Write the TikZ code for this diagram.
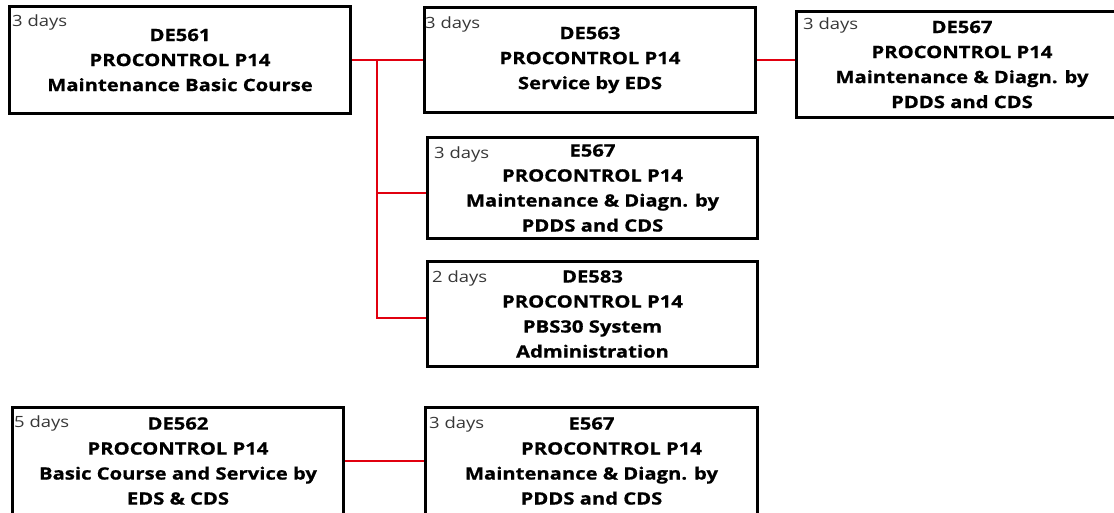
\documentclass[tikz,border=0pt]{standalone}
\usepackage{fontspec}
\setmainfont{Open Sans}[FakeStretch=1.19, BoldFeatures={FakeBold=0.8}]
\usetikzlibrary{positioning}

\definecolor{linkred}{RGB}{225,0,15}
\definecolor{daysgray}{RGB}{55,55,55}

\begin{document}
\begin{tikzpicture}[x=1pt,y=-1pt,
    course/.style={draw, line width=3pt, align=center, inner sep=0pt,
        font=\bfseries\fontsize{17}{25}\selectfont,
        minimum width=331pt, minimum height=105pt},
    days/.style={anchor=base west, inner sep=0pt, text=daysgray,
        font=\fontsize{15.5}{18}\selectfont},
    link/.style={draw=linkred, line width=2pt}]

    % 画布范围
    \useasboundingbox (0,0) rectangle (1114,512);
    \clip (0,0) rectangle (1114,512);

    % 设置节点(课程)
    \node[course, minimum width=341pt, minimum height=107pt] (DE561) at (180,60)
        {DE561\\PROCONTROL P14\\Maintenance Basic Course};
    \node[course] (DE563) [right=71pt of DE561]
        {DE563\\PROCONTROL P14\\Service by EDS};
    \node[course, minimum height=106pt] (DE567) [right=38pt of DE563, yshift=-4.5pt]
        {DE567\\PROCONTROL P14\\Maintenance \& Diagn. by\\PDDS and CDS};
    \node[course, minimum width=330pt, minimum height=101pt] (E567a) [below=22pt of DE563, xshift=2.5pt]
        {E567\\PROCONTROL P14\\Maintenance \& Diagn. by\\PDDS and CDS};
    \node[course, minimum width=330pt] (DE583) [below=20pt of E567a]
        {DE583\\PROCONTROL P14\\PBS30 System\\Administration};
    \node[course, minimum height=107pt] (DE562) at (178,461)
        {DE562\\PROCONTROL P14\\Basic Course and Service by\\EDS \& CDS};
    \node[course, minimum width=332pt, minimum height=107pt] (E567b) [right=79pt of DE562]
        {E567\\\hspace*{40pt}PROCONTROL P14\\Maintenance \& Diagn. by\\PDDS and CDS};

    % 课程天数
    \node[days] (d561) at ([shift={(4,21)}]DE561.north west) {3 days};
    \node[days] (d563) at ([shift={(2,22)}]DE563.north west) {3 days};
    \node[days] (d567) at ([shift={(8,19)}]DE567.north west) {3 days};
    \node[days] (d567a) at ([shift={(8,22)}]E567a.north west) {3 days};
    \node[days] (d583) at ([shift={(6,22)}]DE583.north west) {2 days};
    \node[days] (d562) at ([shift={(3,21)}]DE562.north west) {5 days};
    \node[days] (d567b) at ([shift={(5,22)}]E567b.north west) {3 days};

    % 画出连接线
    \coordinate (j) at ([xshift=25pt]DE561.east);
    \draw[link] (DE561.east) -- (DE563.west);
    \draw[link] (j) |- ([yshift=-5pt]E567a.west);
    \draw[link] (j) |- ([yshift=-4pt]DE583.west);
    \draw[link] (DE563.east) -- (DE563.east -| DE567.west);
    \draw[link] (DE562.east) -- (DE562.east -| E567b.west);

\end{tikzpicture}
\end{document}
